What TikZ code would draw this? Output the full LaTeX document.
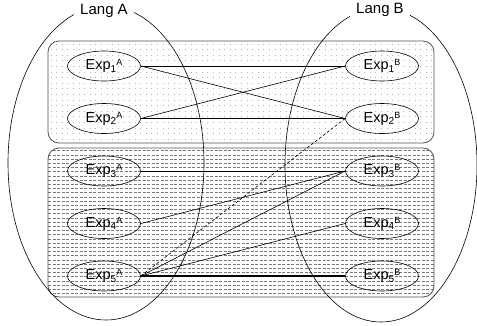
\documentclass[tikz,border=0pt]{standalone}
\usepackage{fontspec}
\setmainfont{Liberation Sans}
\usetikzlibrary{shapes.geometric}

% expression label: Exp with a lowered index and a raised language tag
\newcommand\exprlabel[2]{Exp\raisebox{-2.8pt}{\fontsize{10}{10}\selectfont#1}\raisebox{4pt}{\fontsize{9}{9}\selectfont#2}}

\definecolor{boxline}{HTML}{505050}
\definecolor{dotgray}{HTML}{B4B4B4}
\definecolor{hatchgray}{HTML}{7A7A7A}

\begin{document}
\begin{tikzpicture}[x=1pt,y=-1pt,
  expr/.style={ellipse, draw, line width=0.6pt, minimum width=73pt, minimum height=30pt,
               inner sep=0pt, font=\fontsize{14.5}{16}\selectfont},
  langlabel/.style={fill=white, inner xsep=6pt, inner ysep=3pt, font=\fontsize{15}{17}\selectfont},
  langset/.style={draw, line width=0.6pt},
  group/.style={draw=boxline, line width=0.8pt, rounded corners=11pt},
  link/.style={line width=0.6pt},
  strong/.style={line width=1.3pt},
  weak/.style={line width=0.6pt, dash pattern=on 3pt off 2pt},
]
\useasboundingbox (0,0) rectangle (477,325);

% upper group: dotted texture
\begin{scope}
  \clip[rounded corners=11pt] (48,41) rectangle (434,143);
  \foreach \yy in {44,49.6,...,142} {
    \foreach \xx in {51,56.6,...,433} {
      \fill[dotgray] (\xx-0.5,\yy-0.5) rectangle (\xx+0.5,\yy+0.5);
    }
  }
\end{scope}
\draw[group] (48,41) rectangle (434,143);

% lower group: horizontal dashed texture
\begin{scope}
  \clip[rounded corners=11pt] (48,148) rectangle (434,297);
  \foreach \yy in {150.5,154.7,...,297} {
    \draw[hatchgray, line width=0.4pt, dash pattern=on 3.3pt off 1.2pt] (48,\yy) -- (434,\yy);
  }
\end{scope}
\draw[group] (48,148) rectangle (434,297);

% the two languages
\draw[langset] (106,163) ellipse [x radius=98pt, y radius=157pt];
\draw[langset] (381,165) ellipse [x radius=96pt, y radius=157pt];
\node[langlabel] (langA) at (104,11) {Lang A};
\node[langlabel] (langB) at (380,10) {Lang B};

% expressions
\node[expr] (a1) at (104,66)    {\exprlabel{1}{A}};
\node[expr] (a2) at (104,118.5) {\exprlabel{2}{A}};
\node[expr] (a3) at (104,171)   {\exprlabel{3}{A}};
\node[expr] (a4) at (104,223.5) {\exprlabel{4}{A}};
\node[expr] (a5) at (104,276)   {\exprlabel{5}{A}};
\node[expr] (b1) at (382,66)    {\exprlabel{1}{B}};
\node[expr] (b2) at (382,118.5) {\exprlabel{2}{B}};
\node[expr] (b3) at (382,171)   {\exprlabel{3}{B}};
\node[expr] (b4) at (382,223.5) {\exprlabel{4}{B}};
\node[expr] (b5) at (382,276)   {\exprlabel{5}{B}};

% correspondences
\draw[link] (a1.east) -- (b1.west);
\draw[link] (a1.east) -- (b2.west);
\draw[link] (a2.east) -- (b1.west);
\draw[link] (a2.east) -- (b2.west);
\draw[link] (a3.east) -- (b3.west);
\draw[link] (a4.east) -- (b3.west);
\draw[link] (a5.east) -- (b3.west);
\draw[link] (a5.east) -- (b4.west);
\draw[weak] (a5.east) -- (b2.west);
\draw[strong] (a5.east) -- (b5.west);
\end{tikzpicture}
\end{document}
